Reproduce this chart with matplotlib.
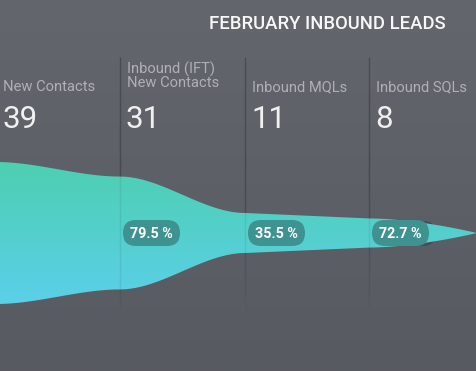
import numpy as np
import matplotlib.pyplot as plt
from matplotlib.patches import FancyBboxPatch, Polygon
from matplotlib.collections import LineCollection

title = 'FEBRUARY INBOUND LEADS'
stages = ['New Contacts', 'Inbound (IFT)\nNew Contacts', 'Inbound MQLs', 'Inbound SQLs']
values = [39, 31, 11, 8]
rates = ['79.5 %', '35.5 %', '72.7 %']

W, H = 477, 371
fig = plt.figure(figsize=(W / 100, H / 100), dpi=100)
ax = fig.add_axes([0, 0, 1, 1])
ax.set_xlim(0, W)
ax.set_ylim(H, 0)
ax.axis('off')

# background, slight vertical gradient
t = np.linspace(0, 1, 256)[:, None, None]
c_top = np.array([100, 102, 109]) / 255
c_bot = np.array([88, 90, 97]) / 255
ax.imshow(c_top + (c_bot - c_top) * t, extent=[0, W, H, 0], aspect='auto', zorder=0)

# column layout
col_x = [-4, 120, 245, 369]
end_x = W
cy = 233
scale = 71 / max(values)

# funnel outline
xk = col_x + [end_x]
vk = values + [0]
xs, hs = [], []
for i in range(len(xk) - 1):
    u = np.linspace(0, 1, 80)
    if i < 2:
        e = 3 * u**2 - 2 * u**3
    elif i == 2:
        e = u
    else:
        e = u**1.7
    xs.append(xk[i] + (xk[i + 1] - xk[i]) * u)
    hs.append((vk[i] + (vk[i + 1] - vk[i]) * e) * scale)
xs = np.concatenate(xs)
hs = np.concatenate(hs)
verts = np.concatenate([np.c_[xs, cy - hs], np.c_[xs[::-1], cy + hs[::-1]]])

# separators fading out downward (behind the funnel)
for x in col_x[1:]:
    ys = np.linspace(57, 305, 60)
    segs = [[(x, ys[j]), (x, ys[j + 1])] for j in range(len(ys) - 1)]
    a = np.clip(1.2 - np.linspace(0, 1, len(segs)) ** 2 * 1.2, 0, 1) * 0.6
    cols = [(0.22, 0.23, 0.26, aa) for aa in a]
    ax.add_collection(LineCollection(segs, colors=cols, linewidths=1, zorder=1))

# badge shadows sit behind the funnel
for i, r in enumerate(rates):
    x0 = col_x[i + 1] + 3
    sh = FancyBboxPatch((x0 + 8, cy - 12), 56, 25,
                        boxstyle='round,pad=0,rounding_size=12.5',
                        fc=(0.22, 0.23, 0.26), ec='none', alpha=0.5, zorder=1)
    ax.add_patch(sh)

poly = Polygon(verts, closed=True, fc='none', ec='none', zorder=2)
ax.add_patch(poly)
g = np.linspace(0, 1, 256)[:, None, None]
f_top = np.array([77, 208, 176]) / 255
f_bot = np.array([91, 207, 233]) / 255
im = ax.imshow(f_top + (f_bot - f_top) * g, extent=[0, W, cy + 71, cy - 71],
               aspect='auto', zorder=2)
im.set_clip_path(poly)

# faint separators over the funnel
for x in col_x[1:]:
    ax.plot([x, x], [cy - 75, cy + 75], color=(0.2, 0.3, 0.3), alpha=0.12,
            lw=1, zorder=3)

# titles and numbers
ax.text(209, 29, title, color='#f7f7f7', fontsize=13.35, fontfamily='Roboto',
        fontweight='medium', va='baseline', ha='left', zorder=5)
label_y = [91, 87, 91, 91]
for i, (s, v) in enumerate(zip(stages, values)):
    x = col_x[i] + 7
    ax.text(x, label_y[i], s, color='#aeb0b5', fontsize=10.6, fontfamily='Roboto',
            va='baseline', ha='left', linespacing=0.92, zorder=5)
    ax.text(x - 1, 128, str(v), color='#f0f0f0', fontsize=22.5, fontfamily='Roboto',
            fontweight='normal', va='baseline', ha='left', zorder=5)

# conversion badges
for i, r in enumerate(rates):
    x0 = col_x[i + 1] + 3
    b = FancyBboxPatch((x0, cy - 13), 57, 26,
                       boxstyle='round,pad=0,rounding_size=13',
                       fc='#3e9290', ec='none', zorder=4)
    ax.add_patch(b)
    ax.text(x0 + 28.5, cy + 0.5, r, color='white', fontsize=10.3, fontweight='bold',
            fontfamily='Roboto', ha='center', va='center', zorder=5)

fig.savefig('out.png', dpi=100)
